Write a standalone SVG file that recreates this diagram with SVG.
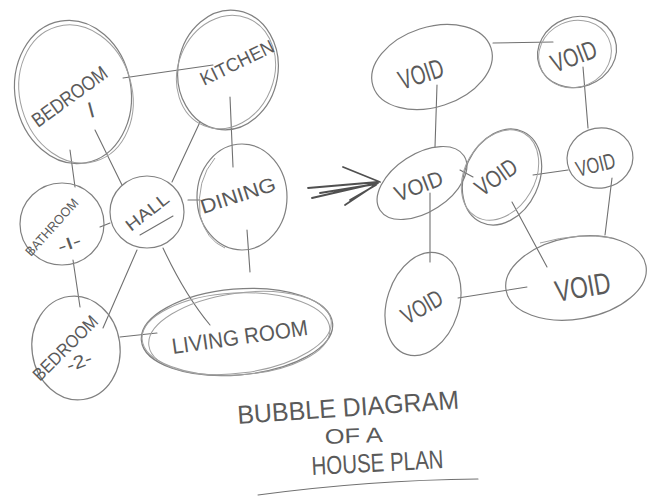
<svg xmlns="http://www.w3.org/2000/svg" width="647" height="497" viewBox="0 0 647 497">
<style>
.b{fill:none;stroke:#808080;stroke-width:1.2}
.b2{fill:none;stroke:#a0a0a0;stroke-width:1}
.c{fill:none;stroke:#707070;stroke-width:1.1;stroke-linecap:round}
.a{fill:none;stroke:#505050;stroke-width:1.8;stroke-linecap:round}
.t{font-family:"Liberation Sans",Arial,sans-serif;fill:#5a5a5a;font-weight:normal}
</style>
<rect width="647" height="497" fill="#ffffff"/>
<g id="connectors">
<path class="c" d="M123,78 L213,65"/>
<path class="c" d="M230,97 L233,167"/>
<path class="c" d="M200,122 L172,182"/>
<path class="c" d="M95,130 L122,185"/>
<path class="c" d="M70,150 L75,187"/>
<path class="c" d="M188,200 L200,200"/>
<path class="c" d="M100,227 L110,223"/>
<path class="c" d="M247,230 L250,272"/>
<path class="c" d="M73,260 L80,307"/>
<path class="c" d="M137,250 L103,328"/>
<path class="c" d="M163,248 Q185,295 210,325"/>
<path class="c" d="M120,337 L157,333"/>
<path class="c" d="M493,43 L553,42"/>
<path class="c" d="M437,85 L435,147"/>
<path class="c" d="M583,67 L588,128"/>
<path class="c" d="M460,170 L473,177"/>
<path class="c" d="M533,175 L568,170"/>
<path class="c" d="M430,193 L430,262"/>
<path class="c" d="M512,202 L547,267"/>
<path class="c" d="M612,178 L605,235"/>
<path class="c" d="M458,298 L527,287"/>
</g>
<g id="arrow">
<path class="a" d="M308,188 L378,182 M312,198 L377,183 M320,193 L376,184 M343,167 L380,182 M345,205 L378,183 M350,200 L376,185"/>
</g>
<g id="bedroom1">
<ellipse class="b" cx="73" cy="92" rx="58" ry="72" transform="rotate(-10 73 92)"/>
<ellipse class="b2" cx="76" cy="94" rx="56" ry="70" transform="rotate(-16 76 94)"/>
<text class="t" font-size="20" textLength="88" lengthAdjust="spacingAndGlyphs" transform="translate(38,128) rotate(-36)">BEDROOM</text>
<text class="t" font-size="22" transform="translate(90,118) rotate(-15)">I</text>
</g>
<g id="kitchen">
<ellipse class="b" cx="228" cy="70" rx="50" ry="60" transform="rotate(10 228 70)"/>
<ellipse class="b2" cx="226" cy="72" rx="48" ry="58" transform="rotate(22 226 72)"/>
<text class="t" font-size="19" textLength="80" lengthAdjust="spacingAndGlyphs" transform="translate(204,86) rotate(-26)">KITCHEN</text>
</g>
<g id="dining">
<ellipse class="b" cx="242" cy="197" rx="45" ry="53"/>
<path class="b2" d="M215,158 Q196,180 200,215 Q206,240 225,248"/>
<text class="t" font-size="20" textLength="78" lengthAdjust="spacingAndGlyphs" transform="translate(203,214) rotate(-18)">DINING</text>
</g>
<g id="hall">
<ellipse class="b" cx="147" cy="212" rx="37" ry="36"/>
<text class="t" font-size="17" textLength="50" lengthAdjust="spacingAndGlyphs" transform="translate(131,232) rotate(-38)">HALL</text>
<path class="c" d="M140,235 L173,216"/>
</g>
<g id="bathroom1">
<ellipse class="b" cx="62" cy="224" rx="42" ry="41"/>
<text class="t" font-size="13" textLength="72" lengthAdjust="spacingAndGlyphs" transform="translate(31,257) rotate(-48)">BATHROOM</text>
<text class="t" font-size="17" textLength="24" lengthAdjust="spacingAndGlyphs" transform="translate(60,253) rotate(-20)">-I-</text>
</g>
<g id="bedroom2">
<ellipse class="b" cx="76" cy="348" rx="44" ry="52" transform="rotate(-8 76 348)"/>
<text class="t" font-size="18" textLength="84" lengthAdjust="spacingAndGlyphs" transform="translate(40,382) rotate(-45)">BEDROOM</text>
<text class="t" font-size="18" textLength="26" lengthAdjust="spacingAndGlyphs" transform="translate(69,372) rotate(-20)">-2-</text>
</g>
<g id="livingroom">
<ellipse class="b" cx="237" cy="332" rx="96" ry="43" transform="rotate(-5 237 332)"/>
<ellipse class="b2" cx="240" cy="333" rx="92" ry="40" transform="rotate(-8 240 333)"/>
<ellipse class="b2" cx="236" cy="334" rx="94" ry="41" transform="rotate(-3 236 334)"/>
<text class="t" font-size="22" textLength="137" lengthAdjust="spacingAndGlyphs" transform="translate(173,354) rotate(-8)">LIVING ROOM</text>
</g>
<g id="void-tl">
<ellipse class="b" cx="432" cy="67" rx="62" ry="40" transform="rotate(-18 432 67)"/>
<text class="t" font-size="27" textLength="46" lengthAdjust="spacingAndGlyphs" transform="translate(402,90) rotate(-18)">VOID</text>
</g>
<g id="void-tr">
<ellipse class="b" cx="577" cy="52" rx="40" ry="35" transform="rotate(-20 577 52)"/>
<ellipse class="b2" cx="575" cy="54" rx="37" ry="33" transform="rotate(-25 575 54)"/>
<text class="t" font-size="26" textLength="47" lengthAdjust="spacingAndGlyphs" transform="translate(555,73) rotate(-21)">VOID</text>
</g>
<g id="void-ml">
<ellipse class="b" cx="422" cy="183" rx="50" ry="29" transform="rotate(-33 422 183)"/>
<text class="t" font-size="22" textLength="50" lengthAdjust="spacingAndGlyphs" transform="translate(398,202) rotate(-21)">VOID</text>
</g>
<g id="void-mc">
<ellipse class="b" cx="502" cy="177" rx="37" ry="50" transform="rotate(25 502 177)"/>
<ellipse class="b2" cx="500" cy="175" rx="35" ry="48" transform="rotate(30 500 175)"/>
<text class="t" font-size="24" textLength="46" lengthAdjust="spacingAndGlyphs" transform="translate(482,197) rotate(-35)">VOID</text>
</g>
<g id="void-mr">
<ellipse class="b" cx="600" cy="158" rx="33" ry="30" transform="rotate(-10 600 158)"/>
<text class="t" font-size="22" textLength="40" lengthAdjust="spacingAndGlyphs" transform="translate(578,177) rotate(-14)">VOID</text>
</g>
<g id="void-bl">
<ellipse class="b" cx="423" cy="304" rx="36" ry="53" transform="rotate(18 423 304)"/>
<text class="t" font-size="24" textLength="44" lengthAdjust="spacingAndGlyphs" transform="translate(407,325) rotate(-30)">VOID</text>
</g>
<g id="void-br">
<ellipse class="b" cx="576" cy="278" rx="71" ry="41" transform="rotate(-10 576 278)"/>
<path class="b2" d="M540,243 Q580,232 612,238"/>
<text class="t" font-size="30" textLength="56" lengthAdjust="spacingAndGlyphs" transform="translate(557,302) rotate(-10)">VOID</text>
</g>
<g id="title">
<text class="t" font-size="26" textLength="222" lengthAdjust="spacingAndGlyphs" transform="translate(238,424) rotate(-4)">BUBBLE DIAGRAM</text>
<text class="t" font-size="21" textLength="58" lengthAdjust="spacingAndGlyphs" transform="translate(325,444) rotate(-2)">OF A</text>
<text class="t" font-size="26" textLength="132" lengthAdjust="spacingAndGlyphs" transform="translate(312,475) rotate(-3)">HOUSE PLAN</text>
<path class="c" d="M258,495 Q370,480 478,479"/>
</g>
</svg>
